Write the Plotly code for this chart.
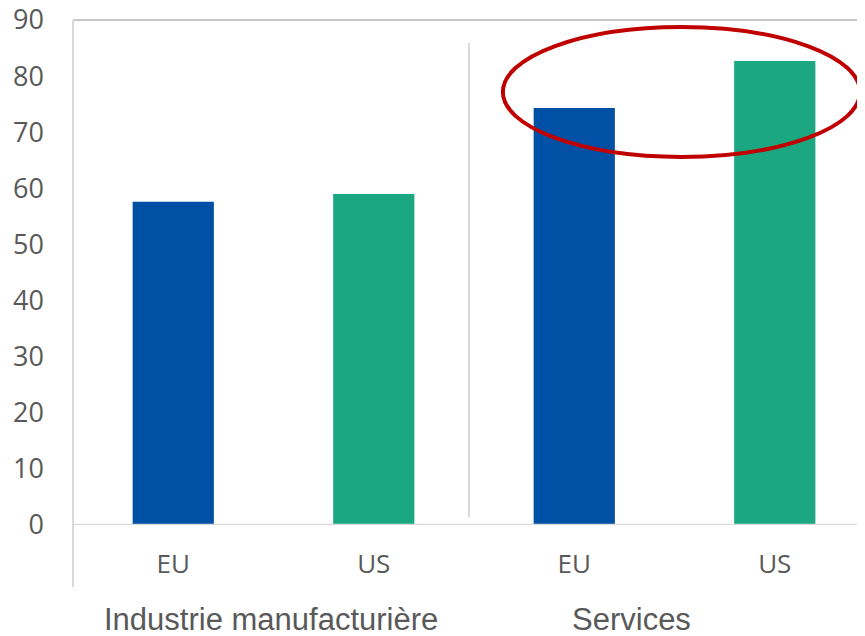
import plotly.graph_objects as go

groups = ["Industrie manufacturière", "Services"]
regions = ["EU", "US", "EU", "US"]
values = [57.6, 59.0, 74.3, 82.7]
bar_colors = ["#0051A5", "#1CA783", "#0051A5", "#1CA783"]
y_ticks = [0, 10, 20, 30, 40, 50, 60, 70, 80, 90]

pos = list(range(len(regions)))
text_col = "#595959"

fig = go.Figure()
fig.add_trace(go.Bar(x=pos, y=values, marker=dict(color=bar_colors, line=dict(width=0)),
                     width=0.405, showlegend=False, hoverinfo="skip"))

fig.update_layout(
    width=857, height=628,
    margin=dict(l=65, r=0, t=12, b=111),
    paper_bgcolor="white", plot_bgcolor="white",
    xaxis=dict(range=[-0.5, 3.45], tickvals=pos, ticktext=regions,
               tickfont=dict(family="Open Sans", size=26, color=text_col),
               showgrid=False, zeroline=False, showline=False, ticks="",
               ticklabelstandoff=21, automargin=False, fixedrange=True),
    yaxis=dict(range=[0, 90], tickvals=y_ticks,
               tickfont=dict(family="Open Sans", size=27, color=text_col),
               showgrid=False, zeroline=False, showline=False, ticks="",
               ticklabelstandoff=28, ticklabeloverflow="allow", automargin=False,
               fixedrange=True),
)

# frame lines
fig.add_shape(type="line", xref="paper", yref="paper", x0=0, x1=1, y0=1, y1=1,
              line=dict(color="#C8C8C8", width=2))
fig.add_shape(type="line", xref="paper", yref="y", x0=0, x1=1, y0=0, y1=0,
              line=dict(color="#D9D9D9", width=2.5))
fig.add_shape(type="line", xref="paper", yref="paper", x0=0, x1=0, y0=-0.123, y1=1,
              line=dict(color="#D9D9D9", width=2))
fig.add_shape(type="line", xref="x", yref="y", x0=1.475, x1=1.475, y0=1.4, y1=85.9,
              line=dict(color="#D9D9D9", width=2))

# highlight ellipse
fig.add_shape(type="circle", xref="x", yref="y", x0=1.644, x1=3.425, y0=65.6, y1=88.75,
              line=dict(color="#C00000", width=4), layer="above")

# group labels
for gx, g in zip([0.487, 2.287], groups):
    fig.add_annotation(x=gx, y=-0.188, xref="x", yref="paper", text=g, showarrow=False,
                       font=dict(family="Liberation Sans", size=31, color=text_col),
                       xanchor="center", yanchor="middle")

fig.write_html("out.html")
